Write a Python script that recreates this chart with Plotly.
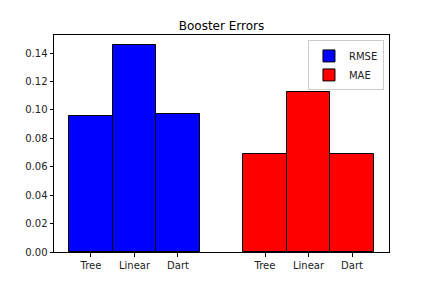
import plotly.graph_objects as go

categories = ["Tree", "Linear", "Dart"]
rmse = [0.0960, 0.1454, 0.0974]
mae = [0.0686, 0.1129, 0.0693]
series_names = ["RMSE", "MAE"]
series_colors = ["blue", "red"]

n = len(categories)
x_rmse = list(range(n))
x_mae = [i + n + 1 for i in range(n)]

fig = go.Figure()
for name, color, xs, vals in zip(series_names, series_colors, [x_rmse, x_mae], [rmse, mae]):
    fig.add_trace(go.Bar(
        x=xs, y=vals, name=name, width=1,
        marker=dict(color=color, line=dict(color="black", width=1)),
    ))

ymax = max(rmse + mae) * 1.05
fig.update_layout(
    width=432, height=288,
    margin=dict(l=54, r=43, t=35, b=36),
    plot_bgcolor="white", paper_bgcolor="white",
    font=dict(family="DejaVu Sans", size=10, color="#222"),
    title=dict(text="Booster Errors", x=(54 + 389) / 2 / 432, xanchor="center",
               y=1 - 25.5 / 288, yanchor="middle", font=dict(size=12, color="black")),
    showlegend=True,
    legend=dict(x=0.985, y=0.975, xanchor="right", yanchor="top",
                bgcolor="rgba(255,255,255,0.8)", bordercolor="#ccc", borderwidth=1,
                font=dict(size=10), tracegroupgap=0, itemwidth=30),
    bargap=0,
)
fig.update_xaxes(
    range=[-0.85, 6.85], tickvals=x_rmse + x_mae, ticktext=categories + categories,
    showline=True, linecolor="black", linewidth=1, mirror=True,
    ticks="outside", ticklen=3.5, tickcolor="black", showgrid=False, zeroline=False,
)
fig.update_yaxes(
    range=[0, ymax], tickvals=[i * 0.02 for i in range(8)], tickformat=".2f",
    showline=True, linecolor="black", linewidth=1, mirror=True,
    ticks="outside", ticklen=3.5, tickcolor="black", showgrid=False, zeroline=False,
)
fig.write_html("out.html")
